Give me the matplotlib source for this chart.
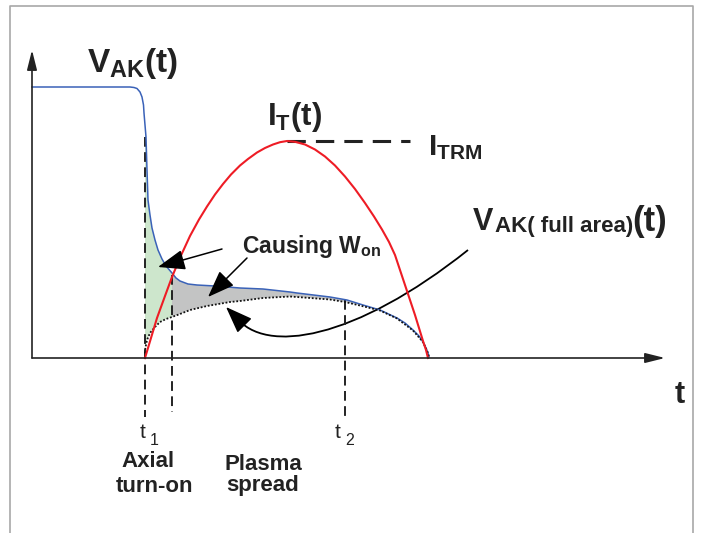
import numpy as np
import matplotlib.pyplot as plt
from matplotlib.path import Path
from matplotlib.patches import PathPatch

plt.rcParams['font.family'] = ['Liberation Sans', 'DejaVu Sans']
plt.rcParams['mathtext.fontset'] = 'custom'
plt.rcParams['mathtext.rm'] = 'Liberation Sans'
plt.rcParams['mathtext.bf'] = 'Liberation Sans:bold'
plt.rcParams['mathtext.it'] = 'Liberation Sans:italic'

# curves (pixel units, y grows downward)
blue_x = [32, 120, 130, 134, 137, 140, 142, 143.5, 144, 145, 146, 147, 148, 150, 152, 155, 158,
          162, 166, 172, 176, 180, 188, 197, 215, 240, 263, 290, 297, 330, 347, 363, 380,
          397, 405, 413, 419, 423, 426, 428, 429]
blue_y = [87, 87, 87, 87.5, 88.5, 92, 97, 105, 113, 125, 137, 170, 200, 215, 228, 240, 250,
          259, 266, 273, 278, 281, 284, 285, 286, 288, 289, 292, 293, 297, 300, 305, 310,
          318, 323, 330, 336, 342, 348, 353, 357]

dot_x = [145, 145, 147, 150, 155, 160, 166, 172, 180, 190, 207, 230, 240, 263, 290, 297, 330,
         345, 360, 380, 397, 413, 423, 428, 429]
dot_y = [357, 350, 340, 333, 327, 322, 319, 317, 314, 310, 306, 302, 301, 298, 296.5, 297, 299.5,
         302, 305.5, 310.5, 318.5, 330.5, 342, 353, 357]

red_x = [145, 151, 157, 165, 172, 181, 190, 199, 207, 215, 223, 231, 240, 248, 257, 265, 273,
         280, 287, 295, 305, 315, 325, 335, 345, 355, 365, 374, 382, 389, 395, 400, 405, 410,
         415, 419, 423, 426, 428]
red_y = [358, 338, 318, 296, 277, 255.5, 236, 219.5, 206.5, 194.5, 184, 174.5, 165.5, 159, 152.5,
         148, 144.5, 142.2, 141, 141.8, 144.5, 149.5, 156.5, 165.5, 176.5, 189, 203, 216.5, 229.5,
         242, 255, 270, 285, 300, 315, 328, 341, 350, 358]

# time markers
t1, t_axial, t2 = 145, 172, 345
gray_end = 360

# curved arrow from the full-area label (bezier: start, two controls, end) and its head tip
curve_pts = [(468, 250), (355, 340), (265, 355), (236, 317)]
curve_tip = (226, 307)

blue_x, blue_y = np.array(blue_x), np.array(blue_y)
dot_x, dot_y = np.array(dot_x), np.array(dot_y)

fig = plt.figure(figsize=(7.02, 5.33), dpi=100)
ax = fig.add_axes([0, 0, 1, 1])
ax.set_xlim(0, 702)
ax.set_ylim(533, 0)
ax.axis('off')

# frame
ax.plot([10, 10, 693, 693], [533, 6, 6, 533], color='#a8a8a8', lw=1.2)

# fills
mb = (blue_x >= t1) & (blue_x <= t_axial)
md = (dot_x >= t1) & (dot_x <= t_axial)
ax.fill(np.concatenate([blue_x[mb], dot_x[md][::-1]]),
        np.concatenate([blue_y[mb], dot_y[md][::-1]]), color='#cde6cc', lw=0)
mb = (blue_x >= t_axial) & (blue_x <= gray_end)
md = (dot_x >= t_axial) & (dot_x <= gray_end)
ax.fill(np.concatenate([blue_x[mb], dot_x[md][::-1]]),
        np.concatenate([blue_y[mb], dot_y[md][::-1]]), color='#c3c4c4', lw=0)

# axes
arr = dict(arrowstyle='-|>,head_length=1.2,head_width=0.3', color='#222222', lw=1.2,
           mutation_scale=10, shrinkA=0, shrinkB=0)
ax.annotate('', xy=(32, 50), xytext=(32, 358), arrowprops=arr)
ax.annotate('', xy=(665, 358), xytext=(32, 358), arrowprops=arr)

# dashed markers
dash = dict(color='#222222', lw=1.4, ls=(0, (5, 2.8)))
ax.plot([t1, t1], [137, 417], **dash)
ax.plot([t_axial, t_axial], [275, 412], **dash)
ax.plot([t2, t2], [300, 420], **dash)
ax.plot([287, 410], [141, 141], color='#222222', lw=2.2, ls=(0, (6, 3.3)))

# curves
ax.plot(blue_x, blue_y, color='#3a62b8', lw=1.1)
ax.plot(dot_x, dot_y, color='#111111', lw=1.3, ls=(0, (1, 1)))
ax.plot(red_x, red_y, color='#ee1c25', lw=1.5)

# arrows
head = dict(arrowstyle='-|>,head_length=1.2,head_width=0.45', color='black', lw=1.1,
            mutation_scale=14, shrinkA=0, shrinkB=0)
ax.annotate('', xy=(158, 267), xytext=(222, 249), arrowprops=head)
ax.annotate('', xy=(208, 297), xytext=(247, 258), arrowprops=head)
ax.add_patch(PathPatch(Path(curve_pts, [Path.MOVETO, Path.CURVE4, Path.CURVE4, Path.CURVE4]),
                       fc='none', ec='black', lw=1.3))
ax.annotate('', xy=curve_tip, xytext=curve_pts[-1], arrowprops=head)

# labels
ink = '#222222'
ax.text(87, 72, r'$\mathbf{V_{AK}(t)}$', fontsize=24, va='baseline', color=ink)
ax.text(267, 125, r'$\mathbf{I_{T}(t)}$', fontsize=22.5, va='baseline', color=ink)
ax.text(428, 155, r'$\mathbf{I_{TRM}}$', fontsize=21.5, va='baseline', color=ink)
ax.text(473, 230, 'V', fontsize=22, fontweight='bold', va='baseline', color=ink)
ax.text(495, 232, 'AK( full area)', fontsize=16, fontweight='bold', va='baseline', color=ink)
ax.text(632, 231, '(t)', fontsize=25, fontweight='bold', va='baseline', color=ink)
ax.text(242, 253, r'$\mathbf{Causing\ W_{on}}$', fontsize=16.5, va='baseline', color=ink)
ax.text(675, 403, 't', fontsize=22, fontweight='bold', va='baseline', color=ink)
ax.text(140, 438, 't', fontsize=15, va='baseline', color=ink)
ax.text(150, 445, '1', fontsize=11.5, va='baseline', color=ink)
ax.text(335, 438, 't', fontsize=15, va='baseline', color=ink)
ax.text(345, 445, '2', fontsize=11.5, va='baseline', color=ink)
ax.text(148, 467, 'Axial', fontsize=16, fontweight='bold', ha='center', va='baseline', color=ink)
ax.text(154, 492, 'turn-on', fontsize=16, fontweight='bold', ha='center', va='baseline',
        color=ink)
ax.text(263, 470, 'Plasma', fontsize=16, fontweight='bold', ha='center', va='baseline',
        color=ink)
ax.text(263, 491, 'spread', fontsize=16, fontweight='bold', ha='center', va='baseline',
        color=ink)

fig.savefig('out.png', dpi=100)
